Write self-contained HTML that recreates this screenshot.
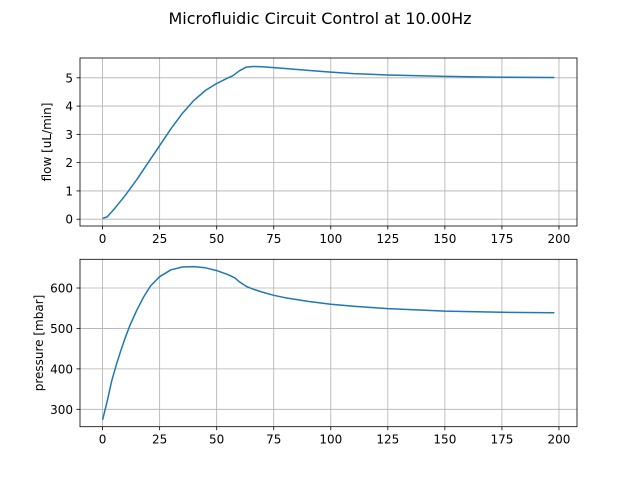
<!DOCTYPE html>
<html><head><meta charset="utf-8"><style>
body{margin:0;background:#fff}
svg{font-family:"DejaVu Sans","Liberation Sans",sans-serif}
</style></head><body>
<svg id="c" width="640" height="480" viewBox="0 0 640 480">
<text x="320" y="24" text-anchor="middle" font-size="16">Microfluidic Circuit Control at 10.00Hz</text>
</svg>
<script>
const flowX=[0,2,5,10,15,20,25,30,35,40,45,50,55,57,60,63,66,70,75,80,90,100,110,125,150,175,198];
const flowY=[0.03,0.08,0.35,0.85,1.4,2.0,2.6,3.2,3.75,4.2,4.55,4.8,5.0,5.07,5.25,5.38,5.4,5.39,5.36,5.33,5.26,5.2,5.15,5.1,5.05,5.02,5.01];
const presX=[0,2,4,6,8,10,12,15,18,21,25,30,35,40,45,50,55,58,60,63,66,70,75,80,90,100,110,125,150,175,198];
const presY=[274,320,370,410,445,478,508,545,578,605,628,645,652,653,650,643,633,625,615,604,597,590,582,576,567,560,555,549,543,540,539];
const xTicks=[0,25,50,75,100,125,150,175,200];
const flowTicks=[0,1,2,3,4,5];
const presTicks=[300,400,500,600];
const NS="http://www.w3.org/2000/svg";
const svg=document.getElementById('c');
function mk(t,a,p){const e=document.createElementNS(NS,t);for(const k in a)e.setAttribute(k,a[k]);(p||svg).appendChild(e);return e;}
function panel(name,top,bottom,ymin,ymax,xs,ys,yt,ylabel,labx){
  const L=80,R=577,xmin=-9.9,xmax=207.9;
  const sx=v=>L+(v-xmin)/(xmax-xmin)*(R-L);
  const sy=v=>bottom-(v-ymin)/(ymax-ymin)*(bottom-top);
  const g=mk('g',{});
  
  
  xTicks.forEach(t=>{const x=sx(t);
    const gl=mk('line',{x1:x,x2:x,y1:top,y2:bottom,stroke:'#b0b0b0','stroke-width':0.8},g);
    
    mk('line',{x1:x,x2:x,y1:bottom,y2:bottom+3.5,stroke:'#000','stroke-width':0.8},g);
    const tx=mk('text',{x:x,y:bottom+17,'text-anchor':'middle','font-size':12},g);tx.textContent=t;
    });
  yt.forEach(t=>{const y=sy(t);
    const gl=mk('line',{x1:L,x2:R,y1:y,y2:y,stroke:'#b0b0b0','stroke-width':0.8},g);
    
    mk('line',{x1:L-3.5,x2:L,y1:y,y2:y,stroke:'#000','stroke-width':0.8},g);
    const tx=mk('text',{x:L-7,y:y+4.5,'text-anchor':'end','font-size':12},g);tx.textContent=t;
    });
  const pts=xs.map((x,i)=>sx(x).toFixed(1)+','+sy(ys[i]).toFixed(1)).join(' ');
  const pl=mk('polyline',{points:pts,fill:'none',stroke:'#1f77b4','stroke-width':1.5,'stroke-linejoin':'round'},g);
  
  const fr=mk('rect',{x:L,y:top,width:R-L,height:bottom-top,fill:'none',stroke:'#000','stroke-width':0.8},g);
  
  const cy=(top+bottom)/2;
  const yl=mk('text',{x:0,y:0,'text-anchor':'middle','font-size':12,transform:`translate(${labx},${cy}) rotate(-90)`},g);
  yl.textContent=ylabel;
  
}
panel('flow',58,226,-0.24,5.70,flowX,flowY,flowTicks,'flow [uL/min]',51);
panel('pressure',259.3,426.7,257,671,presX,presY,presTicks,'pressure [mbar]',43);
</script>
</body></html>
